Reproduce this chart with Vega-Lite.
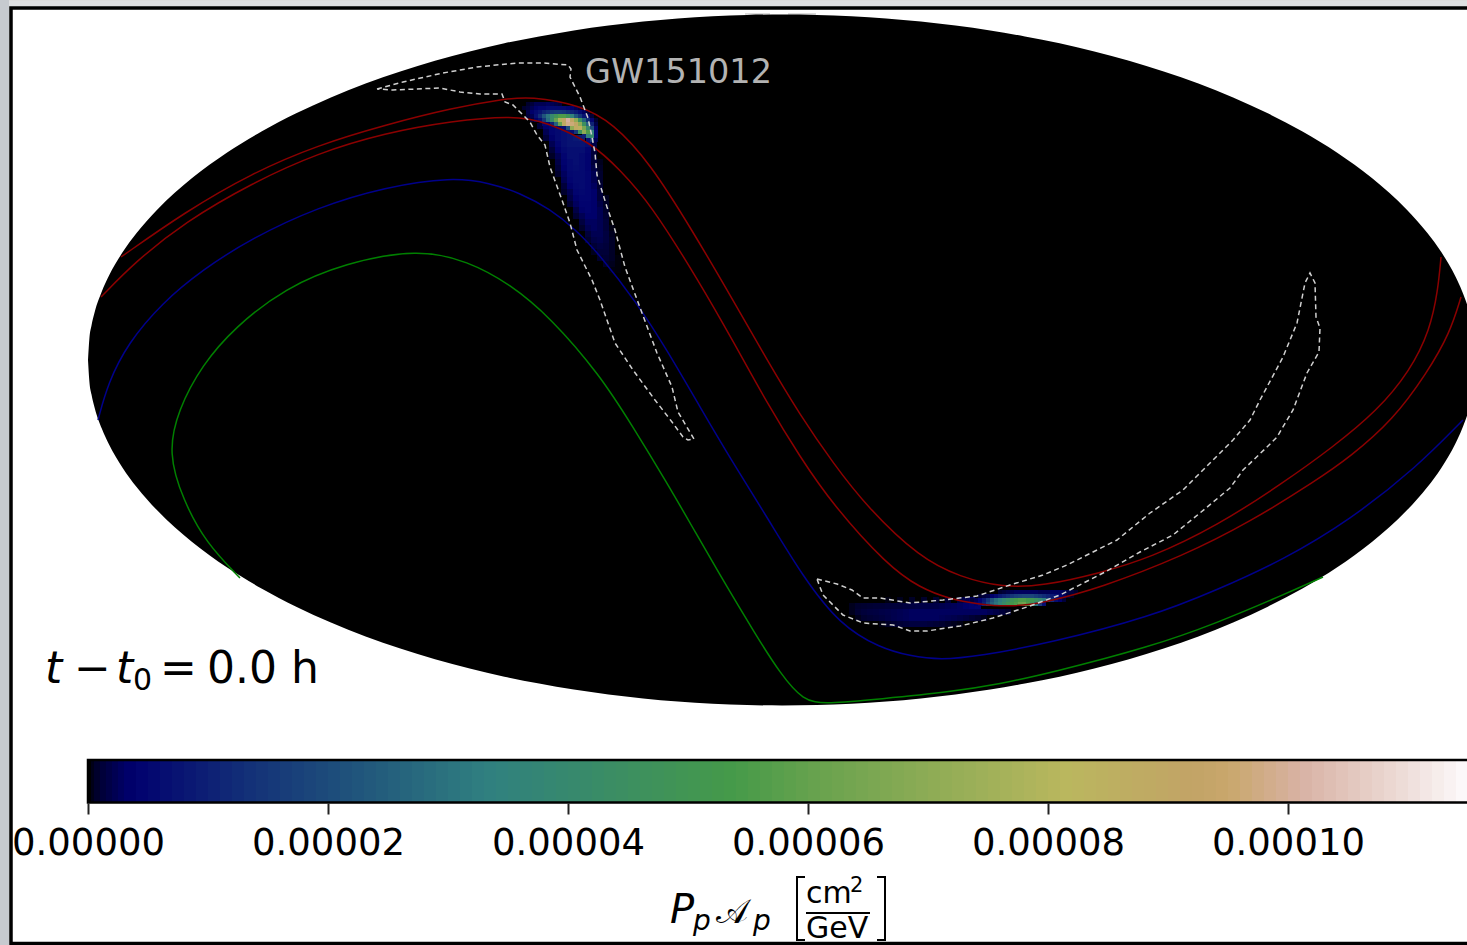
{
"$schema":"https://vega.github.io/schema/vega-lite/v6.json",
"width":1467,"height":945,"autosize":"none","padding":0,"background":"#dfe0e2",
"datasets":{
"sky":[{"x":-694,"t":0,"b":0},{"x":-692.6,"t":21.8,"b":-21.8},{"x":-690.5,"t":34.5,"b":-34.5},{"x":-687.1,"t":48.7,"b":-48.7},{"x":-680.1,"t":68.8,"b":-68.8},{"x":-673.2,"t":84,"b":-84},{"x":-659.3,"t":107.9,"b":-107.9},{"x":-645.4,"t":127,"b":-127},{"x":-624.6,"t":150.6,"b":-150.6},{"x":-589.9,"t":182,"b":-182},{"x":-555.2,"t":207.3,"b":-207.3},{"x":-520.5,"t":228.5,"b":-228.5},{"x":-485.8,"t":246.7,"b":-246.7},{"x":-451.1,"t":262.6,"b":-262.6},{"x":-416.4,"t":276.4,"b":-276.4},{"x":-381.7,"t":288.5,"b":-288.5},{"x":-347,"t":299.2,"b":-299.2},{"x":-312.3,"t":308.6,"b":-308.6},{"x":-277.6,"t":316.7,"b":-316.7},{"x":-242.9,"t":323.6,"b":-323.6},{"x":-208.2,"t":329.6,"b":-329.6},{"x":-173.5,"t":334.5,"b":-334.5},{"x":-138.8,"t":338.5,"b":-338.5},{"x":-104.1,"t":341.6,"b":-341.6},{"x":-69.4,"t":343.8,"b":-343.8},{"x":-34.7,"t":345.1,"b":-345.1},{"x":0,"t":345.5,"b":-345.5},{"x":34.7,"t":345.1,"b":-345.1},{"x":69.4,"t":343.8,"b":-343.8},{"x":104.1,"t":341.6,"b":-341.6},{"x":138.8,"t":338.5,"b":-338.5},{"x":173.5,"t":334.5,"b":-334.5},{"x":208.2,"t":329.6,"b":-329.6},{"x":242.9,"t":323.6,"b":-323.6},{"x":277.6,"t":316.7,"b":-316.7},{"x":312.3,"t":308.6,"b":-308.6},{"x":347,"t":299.2,"b":-299.2},{"x":381.7,"t":288.5,"b":-288.5},{"x":416.4,"t":276.4,"b":-276.4},{"x":451.1,"t":262.6,"b":-262.6},{"x":485.8,"t":246.7,"b":-246.7},{"x":520.5,"t":228.5,"b":-228.5},{"x":555.2,"t":207.3,"b":-207.3},{"x":589.9,"t":182,"b":-182},{"x":624.6,"t":150.6,"b":-150.6},{"x":645.4,"t":127,"b":-127},{"x":659.3,"t":107.9,"b":-107.9},{"x":673.2,"t":84,"b":-84},{"x":680.1,"t":68.8,"b":-68.8},{"x":687.1,"t":48.7,"b":-48.7},{"x":690.5,"t":34.5,"b":-34.5},{"x":692.6,"t":21.8,"b":-21.8},{"x":694,"t":0,"b":0}],
"coarse":[
{"x":-242,"y":234,"v":1e-6},{"x":-236,"y":234,"v":3e-6},{"x":-230,"y":234,"v":4e-6},{"x":-224,"y":234,"v":5e-6},{"x":-218,"y":234,"v":6e-6},{"x":-212,"y":234,"v":7e-6},{"x":-206,"y":234,"v":8e-6},
{"x":-236,"y":228,"v":2e-6},{"x":-230,"y":228,"v":4e-6},{"x":-224,"y":228,"v":5e-6},{"x":-218,"y":228,"v":6e-6},{"x":-212,"y":228,"v":7e-6},
{"x":-236,"y":222,"v":1e-6},{"x":-230,"y":222,"v":3e-6},{"x":-224,"y":222,"v":5e-6},{"x":-218,"y":222,"v":6e-6},{"x":-212,"y":222,"v":7e-6},{"x":-206,"y":222,"v":8e-6},{"x":-200,"y":222,"v":9e-6},
{"x":-230,"y":216,"v":2e-6},{"x":-224,"y":216,"v":4e-6},{"x":-218,"y":216,"v":6e-6},{"x":-212,"y":216,"v":7e-6},{"x":-206,"y":216,"v":7e-6},{"x":-200,"y":216,"v":7e-6},{"x":-194,"y":216,"v":6e-6},{"x":-188,"y":216,"v":1.5e-6},
{"x":-230,"y":210,"v":1e-6},{"x":-224,"y":210,"v":3e-6},{"x":-218,"y":210,"v":5e-6},{"x":-212,"y":210,"v":6e-6},{"x":-206,"y":210,"v":6e-6},{"x":-200,"y":210,"v":6e-6},{"x":-194,"y":210,"v":4e-6},{"x":-188,"y":210,"v":1e-6},
{"x":-230,"y":204,"v":0.4e-6},{"x":-224,"y":204,"v":2e-6},{"x":-218,"y":204,"v":4e-6},{"x":-212,"y":204,"v":6e-6},{"x":-206,"y":204,"v":6e-6},{"x":-200,"y":204,"v":5e-6},{"x":-194,"y":204,"v":3.5e-6},{"x":-188,"y":204,"v":1e-6},
{"x":-224,"y":198,"v":1.5e-6},{"x":-218,"y":198,"v":3.5e-6},{"x":-212,"y":198,"v":5e-6},{"x":-206,"y":198,"v":6e-6},{"x":-200,"y":198,"v":5e-6},{"x":-194,"y":198,"v":3.5e-6},{"x":-188,"y":198,"v":1e-6},{"x":-182,"y":198,"v":0.3e-6},
{"x":-224,"y":192,"v":1e-6},{"x":-218,"y":192,"v":3e-6},{"x":-212,"y":192,"v":5e-6},{"x":-206,"y":192,"v":5.5e-6},{"x":-200,"y":192,"v":5e-6},{"x":-194,"y":192,"v":3.5e-6},{"x":-188,"y":192,"v":1.5e-6},{"x":-182,"y":192,"v":0.4e-6},
{"x":-224,"y":186,"v":0.5e-6},{"x":-218,"y":186,"v":2.5e-6},{"x":-212,"y":186,"v":4.5e-6},{"x":-206,"y":186,"v":5e-6},{"x":-200,"y":186,"v":5e-6},{"x":-194,"y":186,"v":4e-6},{"x":-188,"y":186,"v":2e-6},{"x":-182,"y":186,"v":0.5e-6},
{"x":-218,"y":180,"v":2e-6},{"x":-212,"y":180,"v":4e-6},{"x":-206,"y":180,"v":5e-6},{"x":-200,"y":180,"v":5e-6},{"x":-194,"y":180,"v":4e-6},{"x":-188,"y":180,"v":2e-6},{"x":-182,"y":180,"v":0.5e-6},
{"x":-218,"y":174,"v":1e-6},{"x":-212,"y":174,"v":3e-6},{"x":-206,"y":174,"v":4.5e-6},{"x":-200,"y":174,"v":5e-6},{"x":-194,"y":174,"v":4e-6},{"x":-188,"y":174,"v":2.5e-6},{"x":-182,"y":174,"v":0.7e-6},
{"x":-218,"y":168,"v":0.5e-6},{"x":-212,"y":168,"v":2e-6},{"x":-206,"y":168,"v":4e-6},{"x":-200,"y":168,"v":4.5e-6},{"x":-194,"y":168,"v":4e-6},{"x":-188,"y":168,"v":3e-6},{"x":-182,"y":168,"v":1e-6},
{"x":-212,"y":162,"v":1.5e-6},{"x":-206,"y":162,"v":3e-6},{"x":-200,"y":162,"v":4e-6},{"x":-194,"y":162,"v":4e-6},{"x":-188,"y":162,"v":3e-6},{"x":-182,"y":162,"v":1e-6},{"x":-176,"y":162,"v":0.3e-6},
{"x":-212,"y":156,"v":0.7e-6},{"x":-206,"y":156,"v":2.5e-6},{"x":-200,"y":156,"v":3.5e-6},{"x":-194,"y":156,"v":3.5e-6},{"x":-188,"y":156,"v":3e-6},{"x":-182,"y":156,"v":1.5e-6},{"x":-176,"y":156,"v":0.4e-6},
{"x":-206,"y":150,"v":1.5e-6},{"x":-200,"y":150,"v":3e-6},{"x":-194,"y":150,"v":3.5e-6},{"x":-188,"y":150,"v":3e-6},{"x":-182,"y":150,"v":2e-6},{"x":-176,"y":150,"v":0.5e-6},
{"x":-206,"y":144,"v":0.7e-6},{"x":-200,"y":144,"v":2e-6},{"x":-194,"y":144,"v":3e-6},{"x":-188,"y":144,"v":3e-6},{"x":-182,"y":144,"v":2e-6},{"x":-176,"y":144,"v":0.7e-6},
{"x":-200,"y":138,"v":1.2e-6},{"x":-194,"y":138,"v":2.5e-6},{"x":-188,"y":138,"v":2.5e-6},{"x":-182,"y":138,"v":2e-6},{"x":-176,"y":138,"v":1e-6},
{"x":-200,"y":132,"v":0.5e-6},{"x":-194,"y":132,"v":2e-6},{"x":-188,"y":132,"v":2.5e-6},{"x":-182,"y":132,"v":2e-6},{"x":-176,"y":132,"v":1e-6},{"x":-170,"y":132,"v":0.2e-6},
{"x":-194,"y":126,"v":1e-6},{"x":-188,"y":126,"v":2e-6},{"x":-182,"y":126,"v":2e-6},{"x":-176,"y":126,"v":1.2e-6},{"x":-170,"y":126,"v":0.3e-6},
{"x":-194,"y":120,"v":0.5e-6},{"x":-188,"y":120,"v":1.5e-6},{"x":-182,"y":120,"v":1.8e-6},{"x":-176,"y":120,"v":1.2e-6},{"x":-170,"y":120,"v":0.4e-6},
{"x":-188,"y":114,"v":0.8e-6},{"x":-182,"y":114,"v":1.3e-6},{"x":-176,"y":114,"v":1e-6},{"x":-170,"y":114,"v":0.4e-6},
{"x":-188,"y":108,"v":0.3e-6},{"x":-182,"y":108,"v":0.9e-6},{"x":-176,"y":108,"v":0.9e-6},{"x":-170,"y":108,"v":0.4e-6},
{"x":-182,"y":102,"v":0.5e-6},{"x":-176,"y":102,"v":0.7e-6},{"x":-170,"y":102,"v":0.4e-6},{"x":-164,"y":102,"v":0.1e-6},
{"x":-176,"y":96,"v":0.4e-6},{"x":-170,"y":96,"v":0.3e-6},{"x":-164,"y":96,"v":0.1e-6},
{"x":-170,"y":90,"v":0.15e-6},{"x":-164,"y":90,"v":0.1e-6},
{"x":106,"y":-240,"v":0.2e-6},{"x":118,"y":-240,"v":0.3e-6},{"x":130,"y":-240,"v":0.4e-6},{"x":142,"y":-240,"v":0.5e-6},{"x":154,"y":-240,"v":0.6e-6},{"x":166,"y":-240,"v":0.8e-6},{"x":178,"y":-240,"v":1.2e-6},{"x":184,"y":-240,"v":1.8e-6},{"x":190,"y":-240,"v":2.5e-6},
{"x":70,"y":-246,"v":0.3e-6},{"x":76,"y":-246,"v":0.5e-6},{"x":82,"y":-246,"v":0.6e-6},{"x":88,"y":-246,"v":0.7e-6},{"x":94,"y":-246,"v":0.8e-6},{"x":100,"y":-246,"v":0.8e-6},{"x":106,"y":-246,"v":0.9e-6},{"x":112,"y":-246,"v":1e-6},{"x":118,"y":-246,"v":1e-6},{"x":124,"y":-246,"v":1.2e-6},{"x":130,"y":-246,"v":1.3e-6},{"x":136,"y":-246,"v":1.5e-6},{"x":142,"y":-246,"v":1.5e-6},{"x":148,"y":-246,"v":1.5e-6},{"x":154,"y":-246,"v":1.5e-6},{"x":160,"y":-246,"v":1.8e-6},{"x":166,"y":-246,"v":2e-6},{"x":172,"y":-246,"v":2.2e-6},{"x":178,"y":-246,"v":2.5e-6},{"x":184,"y":-246,"v":3e-6},{"x":190,"y":-246,"v":3.5e-6},{"x":196,"y":-246,"v":4e-6},
{"x":70,"y":-252,"v":0.3e-6},{"x":76,"y":-252,"v":0.7e-6},{"x":82,"y":-252,"v":1e-6},{"x":88,"y":-252,"v":1.2e-6},{"x":94,"y":-252,"v":1.3e-6},{"x":100,"y":-252,"v":1.5e-6},{"x":106,"y":-252,"v":1.6e-6},{"x":112,"y":-252,"v":1.8e-6},{"x":118,"y":-252,"v":2e-6},{"x":124,"y":-252,"v":2.2e-6},{"x":130,"y":-252,"v":2.5e-6},{"x":136,"y":-252,"v":2.5e-6},{"x":142,"y":-252,"v":2.5e-6},{"x":148,"y":-252,"v":2.5e-6},{"x":154,"y":-252,"v":2.5e-6},{"x":160,"y":-252,"v":2.5e-6},{"x":166,"y":-252,"v":2.5e-6},{"x":172,"y":-252,"v":2.5e-6},{"x":178,"y":-252,"v":2.5e-6},{"x":184,"y":-252,"v":2.5e-6},{"x":190,"y":-252,"v":2.5e-6},{"x":196,"y":-252,"v":2.5e-6},{"x":202,"y":-252,"v":2.5e-6},{"x":208,"y":-252,"v":2e-6},{"x":214,"y":-252,"v":1.5e-6},{"x":220,"y":-252,"v":1e-6},{"x":226,"y":-252,"v":0.5e-6},
{"x":76,"y":-258,"v":0.3e-6},{"x":82,"y":-258,"v":0.6e-6},{"x":88,"y":-258,"v":0.8e-6},{"x":94,"y":-258,"v":1e-6},{"x":100,"y":-258,"v":1.2e-6},{"x":106,"y":-258,"v":1.5e-6},{"x":112,"y":-258,"v":1.8e-6},{"x":118,"y":-258,"v":2e-6},{"x":124,"y":-258,"v":2.2e-6},{"x":130,"y":-258,"v":2.5e-6},{"x":136,"y":-258,"v":2.5e-6},{"x":142,"y":-258,"v":2.5e-6},{"x":148,"y":-258,"v":2.5e-6},{"x":154,"y":-258,"v":2.5e-6},{"x":160,"y":-258,"v":2.2e-6},{"x":166,"y":-258,"v":2e-6},{"x":172,"y":-258,"v":1.8e-6},{"x":178,"y":-258,"v":1.5e-6},{"x":184,"y":-258,"v":1.2e-6},{"x":190,"y":-258,"v":0.8e-6},{"x":196,"y":-258,"v":0.5e-6},{"x":202,"y":-258,"v":0.3e-6},
{"x":100,"y":-264,"v":0.2e-6},{"x":106,"y":-264,"v":0.4e-6},{"x":112,"y":-264,"v":0.6e-6},{"x":118,"y":-264,"v":0.8e-6},{"x":124,"y":-264,"v":1e-6},{"x":130,"y":-264,"v":1.2e-6},{"x":136,"y":-264,"v":1.2e-6},{"x":142,"y":-264,"v":1.2e-6},{"x":148,"y":-264,"v":1e-6},{"x":154,"y":-264,"v":0.8e-6},{"x":160,"y":-264,"v":0.6e-6},{"x":166,"y":-264,"v":0.4e-6},{"x":172,"y":-264,"v":0.3e-6},{"x":178,"y":-264,"v":0.2e-6}
],
"fine":[
{"x":-254,"y":256,"v":0.5e-6},{"x":-250,"y":256,"v":1e-6},{"x":-246,"y":256,"v":2e-6},{"x":-242,"y":256,"v":2e-6},{"x":-238,"y":256,"v":2e-6},{"x":-234,"y":256,"v":2.5e-6},{"x":-230,"y":256,"v":2e-6},{"x":-226,"y":256,"v":1.5e-6},{"x":-222,"y":256,"v":1e-6},
{"x":-258,"y":252,"v":0.5e-6},{"x":-254,"y":252,"v":1e-6},{"x":-250,"y":252,"v":2e-6},{"x":-246,"y":252,"v":3e-6},{"x":-242,"y":252,"v":4e-6},{"x":-238,"y":252,"v":4e-6},{"x":-234,"y":252,"v":5e-6},{"x":-230,"y":252,"v":5e-6},{"x":-226,"y":252,"v":5e-6},{"x":-222,"y":252,"v":5e-6},{"x":-218,"y":252,"v":5e-6},{"x":-214,"y":252,"v":4e-6},{"x":-210,"y":252,"v":3e-6},{"x":-206,"y":252,"v":2e-6},{"x":-202,"y":252,"v":1e-6},
{"x":-254,"y":248,"v":1.5e-6},{"x":-250,"y":248,"v":3e-6},{"x":-246,"y":248,"v":5e-6},{"x":-242,"y":248,"v":7e-6},{"x":-238,"y":248,"v":10e-6},{"x":-234,"y":248,"v":12e-6},{"x":-230,"y":248,"v":14e-6},{"x":-226,"y":248,"v":15e-6},{"x":-222,"y":248,"v":15e-6},{"x":-218,"y":248,"v":14e-6},{"x":-214,"y":248,"v":12e-6},{"x":-210,"y":248,"v":10e-6},{"x":-206,"y":248,"v":8e-6},{"x":-202,"y":248,"v":5e-6},{"x":-198,"y":248,"v":2.5e-6},{"x":-194,"y":248,"v":0.8e-6},
{"x":-254,"y":244,"v":1e-6},{"x":-250,"y":244,"v":2e-6},{"x":-246,"y":244,"v":6e-6},{"x":-242,"y":244,"v":12e-6},{"x":-238,"y":244,"v":22e-6},{"x":-234,"y":244,"v":30e-6},{"x":-230,"y":244,"v":40e-6},{"x":-226,"y":244,"v":48e-6},{"x":-222,"y":244,"v":55e-6},{"x":-218,"y":244,"v":55e-6},{"x":-214,"y":244,"v":48e-6},{"x":-210,"y":244,"v":35e-6},{"x":-206,"y":244,"v":22e-6},{"x":-202,"y":244,"v":14e-6},{"x":-198,"y":244,"v":7e-6},{"x":-194,"y":244,"v":3e-6},{"x":-190,"y":244,"v":0.8e-6},
{"x":-250,"y":240,"v":0.8e-6},{"x":-246,"y":240,"v":3e-6},{"x":-242,"y":240,"v":6e-6},{"x":-238,"y":240,"v":14e-6},{"x":-234,"y":240,"v":28e-6},{"x":-230,"y":240,"v":42e-6},{"x":-226,"y":240,"v":60e-6},{"x":-222,"y":240,"v":78e-6},{"x":-218,"y":240,"v":90e-6},{"x":-214,"y":240,"v":100e-6},{"x":-210,"y":240,"v":90e-6},{"x":-206,"y":240,"v":70e-6},{"x":-202,"y":240,"v":45e-6},{"x":-198,"y":240,"v":25e-6},{"x":-194,"y":240,"v":12e-6},{"x":-190,"y":240,"v":4e-6},{"x":-186,"y":240,"v":0.6e-6},
{"x":-238,"y":236,"v":4e-6},{"x":-234,"y":236,"v":4e-6},{"x":-230,"y":236,"v":10e-6},{"x":-226,"y":236,"v":25e-6},{"x":-222,"y":236,"v":60e-6},{"x":-218,"y":236,"v":88e-6},{"x":-214,"y":236,"v":98e-6},{"x":-210,"y":236,"v":96e-6},{"x":-206,"y":236,"v":90e-6},{"x":-202,"y":236,"v":70e-6},{"x":-198,"y":236,"v":45e-6},{"x":-194,"y":236,"v":25e-6},{"x":-190,"y":236,"v":10e-6},{"x":-186,"y":236,"v":1.5e-6},
{"x":-218,"y":232,"v":6e-6},{"x":-214,"y":232,"v":20e-6},{"x":-210,"y":232,"v":70e-6},{"x":-206,"y":232,"v":88e-6},{"x":-202,"y":232,"v":85e-6},{"x":-198,"y":232,"v":65e-6},{"x":-194,"y":232,"v":40e-6},{"x":-190,"y":232,"v":20e-6},{"x":-186,"y":232,"v":3e-6},
{"x":-210,"y":228,"v":6e-6},{"x":-206,"y":228,"v":15e-6},{"x":-202,"y":228,"v":45e-6},{"x":-198,"y":228,"v":70e-6},{"x":-194,"y":228,"v":55e-6},{"x":-190,"y":228,"v":35e-6},{"x":-186,"y":228,"v":4e-6},
{"x":-198,"y":224,"v":10e-6},{"x":-194,"y":224,"v":35e-6},{"x":-190,"y":224,"v":40e-6},{"x":-186,"y":224,"v":4e-6},
{"x":-194,"y":220,"v":6e-6},{"x":-190,"y":220,"v":14e-6},{"x":-186,"y":220,"v":2e-6},
{"x":218,"y":-232,"v":0.6e-6},{"x":222,"y":-232,"v":1e-6},{"x":226,"y":-232,"v":1.5e-6},{"x":230,"y":-232,"v":2e-6},{"x":234,"y":-232,"v":2.5e-6},{"x":238,"y":-232,"v":2.5e-6},{"x":242,"y":-232,"v":2.5e-6},{"x":246,"y":-232,"v":2.5e-6},{"x":250,"y":-232,"v":2.5e-6},{"x":254,"y":-232,"v":2.5e-6},{"x":258,"y":-232,"v":2e-6},{"x":262,"y":-232,"v":2e-6},{"x":266,"y":-232,"v":2e-6},{"x":270,"y":-232,"v":2.5e-6},{"x":274,"y":-232,"v":2.5e-6},{"x":278,"y":-232,"v":2.5e-6},{"x":282,"y":-232,"v":2e-6},{"x":286,"y":-232,"v":1.5e-6},{"x":290,"y":-232,"v":1e-6},{"x":294,"y":-232,"v":0.5e-6},
{"x":198,"y":-236,"v":0.5e-6},{"x":202,"y":-236,"v":1e-6},{"x":206,"y":-236,"v":1.5e-6},{"x":210,"y":-236,"v":3e-6},{"x":214,"y":-236,"v":5e-6},{"x":218,"y":-236,"v":8e-6},{"x":222,"y":-236,"v":10e-6},{"x":226,"y":-236,"v":12e-6},{"x":230,"y":-236,"v":14e-6},{"x":234,"y":-236,"v":16e-6},{"x":238,"y":-236,"v":17e-6},{"x":242,"y":-236,"v":18e-6},{"x":246,"y":-236,"v":18e-6},{"x":250,"y":-236,"v":18e-6},{"x":254,"y":-236,"v":16e-6},{"x":258,"y":-236,"v":14e-6},{"x":262,"y":-236,"v":12e-6},{"x":266,"y":-236,"v":10e-6},{"x":270,"y":-236,"v":8e-6},{"x":274,"y":-236,"v":6e-6},{"x":278,"y":-236,"v":4e-6},{"x":282,"y":-236,"v":2.5e-6},{"x":286,"y":-236,"v":1e-6},{"x":290,"y":-236,"v":0.4e-6},
{"x":190,"y":-240,"v":1e-6},{"x":194,"y":-240,"v":2e-6},{"x":198,"y":-240,"v":4e-6},{"x":202,"y":-240,"v":8e-6},{"x":206,"y":-240,"v":14e-6},{"x":210,"y":-240,"v":22e-6},{"x":214,"y":-240,"v":28e-6},{"x":218,"y":-240,"v":32e-6},{"x":222,"y":-240,"v":38e-6},{"x":226,"y":-240,"v":42e-6},{"x":230,"y":-240,"v":48e-6},{"x":234,"y":-240,"v":52e-6},{"x":238,"y":-240,"v":55e-6},{"x":242,"y":-240,"v":55e-6},{"x":246,"y":-240,"v":52e-6},{"x":250,"y":-240,"v":50e-6},{"x":254,"y":-240,"v":45e-6},{"x":258,"y":-240,"v":40e-6},{"x":262,"y":-240,"v":32e-6},{"x":266,"y":-240,"v":22e-6},{"x":270,"y":-240,"v":12e-6},{"x":274,"y":-240,"v":6e-6},{"x":278,"y":-240,"v":3e-6},{"x":282,"y":-240,"v":1e-6},
{"x":194,"y":-244,"v":3e-6},{"x":198,"y":-244,"v":5e-6},{"x":202,"y":-244,"v":10e-6},{"x":206,"y":-244,"v":18e-6},{"x":210,"y":-244,"v":25e-6},{"x":214,"y":-244,"v":30e-6},{"x":218,"y":-244,"v":36e-6},{"x":222,"y":-244,"v":42e-6},{"x":226,"y":-244,"v":48e-6},{"x":230,"y":-244,"v":52e-6},{"x":234,"y":-244,"v":55e-6},{"x":238,"y":-244,"v":60e-6},{"x":242,"y":-244,"v":62e-6},{"x":246,"y":-244,"v":55e-6},{"x":250,"y":-244,"v":45e-6},{"x":254,"y":-244,"v":30e-6},{"x":258,"y":-244,"v":15e-6},{"x":262,"y":-244,"v":6e-6}
],
"red":[
{"s":"a","x":-661,"y":103},{"s":"a","x":-597,"y":148},{"s":"a","x":-530,"y":187},{"s":"a","x":-464,"y":215},{"s":"a","x":-397,"y":235},{"s":"a","x":-330,"y":252},{"s":"a","x":-277,"y":261},{"s":"a","x":-252,"y":263.5},{"s":"a","x":-202,"y":255},{"s":"a","x":-169,"y":237},{"s":"a","x":-132,"y":197},{"s":"a","x":-90,"y":130},{"s":"a","x":-49,"y":60},{"s":"a","x":-15,"y":0},{"s":"a","x":18,"y":-55},{"s":"a","x":51,"y":-103},{"s":"a","x":85,"y":-147},{"s":"a","x":138,"y":-198},{"s":"a","x":178,"y":-217},{"s":"a","x":221,"y":-227.5},{"s":"a","x":261,"y":-226},{"s":"a","x":318,"y":-213},{"s":"a","x":368,"y":-198},{"s":"a","x":435,"y":-166},{"s":"a","x":501,"y":-123},{"s":"a","x":551,"y":-87},{"s":"a","x":595,"y":-51},{"s":"a","x":628,"y":-11},{"s":"a","x":648,"y":30},{"s":"a","x":656,"y":70},{"s":"a","x":659,"y":103},
{"s":"b","x":-681,"y":63},{"s":"b","x":-647,"y":98},{"s":"b","x":-597,"y":138},{"s":"b","x":-530,"y":177},{"s":"b","x":-464,"y":207},{"s":"b","x":-397,"y":227},{"s":"b","x":-330,"y":239},{"s":"b","x":-269,"y":244.5},{"s":"b","x":-235,"y":238},{"s":"b","x":-190,"y":217},{"s":"b","x":-162,"y":190},{"s":"b","x":-132,"y":157},{"s":"b","x":-82,"y":77},{"s":"b","x":-49,"y":19},{"s":"b","x":-15,"y":-43},{"s":"b","x":18,"y":-97},{"s":"b","x":51,"y":-145},{"s":"b","x":105,"y":-205},{"s":"b","x":138,"y":-228},{"s":"b","x":168,"y":-239},{"s":"b","x":195,"y":-244},{"s":"b","x":228,"y":-247},{"s":"b","x":261,"y":-243},{"s":"b","x":318,"y":-228},{"s":"b","x":401,"y":-196},{"s":"b","x":468,"y":-162},{"s":"b","x":535,"y":-120},{"s":"b","x":568,"y":-97},{"s":"b","x":611,"y":-60},{"s":"b","x":645,"y":-13},{"s":"b","x":668,"y":27},{"s":"b","x":679,"y":63}],
"blue":[{"x":-684,"y":-60},{"x":-674,"y":-23},{"x":-654,"y":17},{"x":-620,"y":57},{"x":-580,"y":90},{"x":-530,"y":122},{"x":-464,"y":153},{"x":-397,"y":173},{"x":-330,"y":183},{"x":-292,"y":177},{"x":-262,"y":167},{"x":-232,"y":151},{"x":-207,"y":131},{"x":-182,"y":105},{"x":-145,"y":57},{"x":-115,"y":10},{"x":-82,"y":-47},{"x":-49,"y":-103},{"x":-15,"y":-157},{"x":21,"y":-217},{"x":58,"y":-265},{"x":98,"y":-288},{"x":128,"y":-296},{"x":158,"y":-300},{"x":198,"y":-296},{"x":268,"y":-283},{"x":368,"y":-257},{"x":435,"y":-230},{"x":501,"y":-200},{"x":568,"y":-160},{"x":635,"y":-107},{"x":681,"y":-60}],
"green":[{"x":-542,"y":-218},{"x":-576,"y":-183},{"x":-599,"y":-140},{"x":-614,"y":-93},{"x":-604,"y":-50},{"x":-580,"y":-5},{"x":-547,"y":33},{"x":-497,"y":72},{"x":-437,"y":97},{"x":-364,"y":111},{"x":-314,"y":99},{"x":-272,"y":76},{"x":-232,"y":43},{"x":-182,"y":-15},{"x":-149,"y":-67},{"x":-115,"y":-123},{"x":-89,"y":-168},{"x":-65,"y":-210},{"x":-25,"y":-277},{"x":-2,"y":-313},{"x":21,"y":-341},{"x":44,"y":-344},{"x":98,"y":-339},{"x":168,"y":-332},{"x":218,"y":-324},{"x":268,"y":-313},{"x":368,"y":-287},{"x":435,"y":-263},{"x":501,"y":-235},{"x":541,"y":-217}],
"contour":[
{"s":"n","x":-405,"y":271},{"s":"n","x":-379,"y":278},{"s":"n","x":-339,"y":287},{"s":"n","x":-305,"y":293},{"s":"n","x":-265,"y":297},{"s":"n","x":-239,"y":297},{"s":"n","x":-214,"y":295},{"s":"n","x":-211,"y":291},{"s":"n","x":-212,"y":283},{"s":"n","x":-202,"y":263},{"s":"n","x":-194,"y":242},{"s":"n","x":-190,"y":223},{"s":"n","x":-187,"y":207},{"s":"n","x":-185,"y":185},{"s":"n","x":-175,"y":153},{"s":"n","x":-167,"y":130},{"s":"n","x":-157,"y":93},{"s":"n","x":-140,"y":47},{"s":"n","x":-125,"y":7},{"s":"n","x":-110,"y":-27},{"s":"n","x":-104,"y":-52},{"s":"n","x":-88,"y":-79},{"s":"n","x":-94,"y":-80},{"s":"n","x":-99,"y":-77},{"s":"n","x":-110,"y":-62},{"s":"n","x":-127,"y":-40},{"s":"n","x":-149,"y":-10},{"s":"n","x":-167,"y":17},{"s":"n","x":-182,"y":60},{"s":"n","x":-190,"y":80},{"s":"n","x":-205,"y":110},{"s":"n","x":-212,"y":137},{"s":"n","x":-220,"y":160},{"s":"n","x":-232,"y":193},{"s":"n","x":-237,"y":215},{"s":"n","x":-245,"y":225},{"s":"n","x":-252,"y":238},{"s":"n","x":-269,"y":255},{"s":"n","x":-277,"y":258},{"s":"n","x":-280,"y":266},{"s":"n","x":-302,"y":266},{"s":"n","x":-322,"y":268},{"s":"n","x":-342,"y":272},{"s":"n","x":-389,"y":270},{"s":"n","x":-405,"y":271},
{"s":"m","x":35,"y":-219},{"s":"m","x":55,"y":-224},{"s":"m","x":70,"y":-230},{"s":"m","x":81,"y":-238},{"s":"m","x":98,"y":-238},{"s":"m","x":128,"y":-243},{"s":"m","x":161,"y":-240},{"s":"m","x":195,"y":-236},{"s":"m","x":228,"y":-225},{"s":"m","x":261,"y":-215},{"s":"m","x":285,"y":-205},{"s":"m","x":301,"y":-197},{"s":"m","x":335,"y":-180},{"s":"m","x":368,"y":-153},{"s":"m","x":401,"y":-130},{"s":"m","x":428,"y":-103},{"s":"m","x":451,"y":-80},{"s":"m","x":468,"y":-60},{"s":"m","x":478,"y":-40},{"s":"m","x":501,"y":3},{"s":"m","x":515,"y":37},{"s":"m","x":523,"y":77},{"s":"m","x":528,"y":87},{"s":"m","x":533,"y":77},{"s":"m","x":534,"y":43},{"s":"m","x":538,"y":32},{"s":"m","x":537,"y":8},{"s":"m","x":525,"y":-13},{"s":"m","x":511,"y":-50},{"s":"m","x":495,"y":-77},{"s":"m","x":485,"y":-87},{"s":"m","x":461,"y":-110},{"s":"m","x":448,"y":-128},{"s":"m","x":418,"y":-153},{"s":"m","x":391,"y":-175},{"s":"m","x":358,"y":-192},{"s":"m","x":323,"y":-212},{"s":"m","x":278,"y":-235},{"s":"m","x":245,"y":-247},{"s":"m","x":211,"y":-258},{"s":"m","x":178,"y":-266},{"s":"m","x":145,"y":-271},{"s":"m","x":128,"y":-271},{"s":"m","x":111,"y":-265},{"s":"m","x":81,"y":-263},{"s":"m","x":61,"y":-255},{"s":"m","x":41,"y":-235},{"s":"m","x":35,"y":-219}],
"brackets":[
{"s":"l","x":23,"y":-517},{"s":"l","x":15,"y":-517},{"s":"l","x":15,"y":-580},{"s":"l","x":23,"y":-580},
{"s":"r","x":95,"y":-517},{"s":"r","x":103,"y":-517},{"s":"r","x":103,"y":-580},{"s":"r","x":95,"y":-580},
{"s":"f","x":24,"y":-553},{"s":"f","x":88,"y":-553}],
"bar":[{"v":0,"w":0.25e-6},{"v":0.25e-6,"w":0.5e-6},{"v":0.5e-6,"w":1e-6},{"v":1e-6,"w":1.5e-6},{"v":1.5e-6,"w":2e-6},{"v":2e-6,"w":2.5e-6},{"v":2.5e-6,"w":3e-6},{"v":3e-6,"w":4e-6},{"v":4e-6,"w":5e-6},{"v":5e-6,"w":6e-6},{"v":6e-6,"w":7e-6},{"v":7e-6,"w":8e-6},{"v":8e-6,"w":9e-6},{"v":9e-6,"w":10e-6},{"v":10e-6,"w":11e-6},{"v":11e-6,"w":12e-6},{"v":12e-6,"w":13e-6},{"v":13e-6,"w":14e-6},{"v":14e-6,"w":15e-6},{"v":15e-6,"w":16e-6},{"v":16e-6,"w":17e-6},{"v":17e-6,"w":18e-6},{"v":18e-6,"w":19e-6},{"v":19e-6,"w":20e-6},{"v":20e-6,"w":21e-6},{"v":21e-6,"w":22e-6},{"v":22e-6,"w":23e-6},{"v":23e-6,"w":24e-6},{"v":24e-6,"w":25e-6},{"v":25e-6,"w":26e-6},{"v":26e-6,"w":27e-6},{"v":27e-6,"w":28e-6},{"v":28e-6,"w":29e-6},{"v":29e-6,"w":30e-6},{"v":30e-6,"w":31e-6},{"v":31e-6,"w":32e-6},{"v":32e-6,"w":33e-6},{"v":33e-6,"w":34e-6},{"v":34e-6,"w":35e-6},{"v":35e-6,"w":36e-6},{"v":36e-6,"w":37e-6},{"v":37e-6,"w":38e-6},{"v":38e-6,"w":39e-6},{"v":39e-6,"w":40e-6},{"v":40e-6,"w":41e-6},{"v":41e-6,"w":42e-6},{"v":42e-6,"w":43e-6},{"v":43e-6,"w":44e-6},{"v":44e-6,"w":45e-6},{"v":45e-6,"w":46e-6},{"v":46e-6,"w":47e-6},{"v":47e-6,"w":48e-6},{"v":48e-6,"w":49e-6},{"v":49e-6,"w":50e-6},{"v":50e-6,"w":51e-6},{"v":51e-6,"w":52e-6},{"v":52e-6,"w":53e-6},{"v":53e-6,"w":54e-6},{"v":54e-6,"w":55e-6},{"v":55e-6,"w":56e-6},{"v":56e-6,"w":57e-6},{"v":57e-6,"w":58e-6},{"v":58e-6,"w":59e-6},{"v":59e-6,"w":60e-6},{"v":60e-6,"w":61e-6},{"v":61e-6,"w":62e-6},{"v":62e-6,"w":63e-6},{"v":63e-6,"w":64e-6},{"v":64e-6,"w":65e-6},{"v":65e-6,"w":66e-6},{"v":66e-6,"w":67e-6},{"v":67e-6,"w":68e-6},{"v":68e-6,"w":69e-6},{"v":69e-6,"w":70e-6},{"v":70e-6,"w":71e-6},{"v":71e-6,"w":72e-6},{"v":72e-6,"w":73e-6},{"v":73e-6,"w":74e-6},{"v":74e-6,"w":75e-6},{"v":75e-6,"w":76e-6},{"v":76e-6,"w":77e-6},{"v":77e-6,"w":78e-6},{"v":78e-6,"w":79e-6},{"v":79e-6,"w":80e-6},{"v":80e-6,"w":81e-6},{"v":81e-6,"w":82e-6},{"v":82e-6,"w":83e-6},{"v":83e-6,"w":84e-6},{"v":84e-6,"w":85e-6},{"v":85e-6,"w":86e-6},{"v":86e-6,"w":87e-6},{"v":87e-6,"w":88e-6},{"v":88e-6,"w":89e-6},{"v":89e-6,"w":90e-6},{"v":90e-6,"w":91e-6},{"v":91e-6,"w":92e-6},{"v":92e-6,"w":93e-6},{"v":93e-6,"w":94e-6},{"v":94e-6,"w":95e-6},{"v":95e-6,"w":96e-6},{"v":96e-6,"w":97e-6},{"v":97e-6,"w":98e-6},{"v":98e-6,"w":99e-6},{"v":99e-6,"w":100e-6},{"v":100e-6,"w":101e-6},{"v":101e-6,"w":102e-6},{"v":102e-6,"w":103e-6},{"v":103e-6,"w":104e-6},{"v":104e-6,"w":105e-6},{"v":105e-6,"w":106e-6},{"v":106e-6,"w":107e-6},{"v":107e-6,"w":108e-6},{"v":108e-6,"w":109e-6},{"v":109e-6,"w":110e-6},{"v":110e-6,"w":111e-6},{"v":111e-6,"w":112e-6},{"v":112e-6,"w":113e-6},{"v":113e-6,"w":114e-6},{"v":114e-6,"w":115e-6},{"v":115e-6,"w":116e-6}]
},
"resolve":{"scale":{"x":"independent","y":"independent"}},
"layer":[
{
"encoding":{
"x":{"field":"x","type":"quantitative","scale":{"domain":[-782,685],"nice":false,"zero":false},"axis":null},
"y":{"field":"y","type":"quantitative","scale":{"domain":[-585,360],"nice":false,"zero":false},"axis":null}
},
"layer":[
{"data":{"values":[{"x":-782,"x1":-773,"y":360,"y1":-585}]},"mark":{"type":"rect","fill":"#c6cacf"},"encoding":{"x2":{"field":"x1"},"y2":{"field":"y1"}}},
{"data":{"values":[{"x":-771,"x1":708,"y":352,"y1":-583.5}]},"mark":{"type":"rect","fill":"#ffffff","stroke":"#000000","strokeWidth":3.5},"encoding":{"x2":{"field":"x1"},"y2":{"field":"y1"}}},
{"data":{"values":[{"s":"a","x":-37,"y":346},{"s":"a","x":-12,"y":346},{"s":"b","x":6,"y":346},{"s":"b","x":34,"y":346}]},"mark":{"type":"line","color":"#bbbbbb","strokeWidth":1.5,"opacity":0.7},"encoding":{"detail":{"field":"s"}}},
{"data":{"name":"sky"},"mark":{"type":"area","color":"#000000","interpolate":"monotone"},"encoding":{"y":{"field":"t","type":"quantitative"},"y2":{"field":"b"}}},
{"data":{"name":"coarse"},"mark":{"type":"rect","width":6,"height":6},"encoding":{"color":{"field":"v","type":"quantitative","legend":null,"scale":{"interpolate":"rgb","domain":[0,0.45e-6,0.9e-6,3.19e-6,12.76e-6,32.76e-6,53.22e-6,60.5e-6,80.97e-6,91.43e-6,94.62e-6,100.54e-6,109.3e-6,114.3e-6],"range":["#000000","#00002b","#000038","#00006e","#133078","#308080","#459a49","#69a34e","#bab75e","#c2a366","#c9a76c","#d8b2a4","#eeddd9","#fdfafb"]}}}},
{"data":{"name":"fine"},"mark":{"type":"rect","width":4,"height":4},"encoding":{"color":{"field":"v","type":"quantitative","legend":null}}},
{"data":{"name":"red"},"transform":[{"window":[{"op":"row_number","as":"i"}]}],"mark":{"type":"line","color":"#8b0000","strokeWidth":1.5,"interpolate":"basis"},"encoding":{"detail":{"field":"s"},"order":{"field":"i","type":"quantitative"}}},
{"data":{"name":"blue"},"transform":[{"window":[{"op":"row_number","as":"i"}]}],"mark":{"type":"line","color":"#00008b","strokeWidth":1.5,"interpolate":"basis"},"encoding":{"order":{"field":"i","type":"quantitative"}}},
{"data":{"name":"green"},"transform":[{"window":[{"op":"row_number","as":"i"}]}],"mark":{"type":"line","color":"#008000","strokeWidth":1.5,"interpolate":"basis"},"encoding":{"order":{"field":"i","type":"quantitative"}}},
{"data":{"name":"contour"},"transform":[{"window":[{"op":"row_number","as":"i"}]}],"mark":{"type":"line","color":"#d0d0d0","strokeWidth":1.5,"strokeDash":[5,3.5]},"encoding":{"detail":{"field":"s"},"order":{"field":"i","type":"quantitative"}}},
{"data":{"name":"brackets"},"transform":[{"window":[{"op":"row_number","as":"i"}]}],"mark":{"type":"line","color":"#000000","strokeWidth":2},"encoding":{"detail":{"field":"s"},"order":{"field":"i","type":"quantitative"}}},
{"data":{"values":[{"x":-197,"y":277,"s":"GW151012"}]},"mark":{"type":"text","align":"left","baseline":"alphabetic","font":"DejaVu Sans","fontSize":33.5,"color":"#b3b3b3"},"encoding":{"text":{"field":"s"}}},
{"data":{"values":[{"x":-708,"y":-323,"s":"−"},{"x":-622,"y":-323,"s":"="},{"x":-575,"y":-323,"s":"0.0 h"}]},"mark":{"type":"text","align":"left","baseline":"alphabetic","font":"DejaVu Sans","fontSize":44,"color":"#000000"},"encoding":{"text":{"field":"s"}}},
{"data":{"values":[{"x":-737,"y":-323,"s":"t"},{"x":-666,"y":-323,"s":"t"}]},"mark":{"type":"text","align":"left","baseline":"alphabetic","font":"DejaVu Sans","fontStyle":"italic","fontSize":44,"color":"#000000"},"encoding":{"text":{"field":"s"}}},
{"data":{"values":[{"x":-649,"y":-330,"s":"0"}]},"mark":{"type":"text","align":"left","baseline":"alphabetic","font":"DejaVu Sans","fontSize":30,"color":"#000000"},"encoding":{"text":{"field":"s"}}},
{"data":{"values":[{"x":-112,"y":-563,"s":"P"}]},"mark":{"type":"text","align":"left","baseline":"alphabetic","font":"DejaVu Sans","fontStyle":"italic","fontSize":40,"color":"#000000"},"encoding":{"text":{"field":"s"}}},
{"data":{"values":[{"x":-66,"y":-563,"s":"𝒜"}]},"mark":{"type":"text","align":"left","baseline":"alphabetic","font":"DejaVu Sans","fontSize":34,"color":"#000000"},"encoding":{"text":{"field":"s"}}},
{"data":{"values":[{"x":-89,"y":-570,"s":"p"},{"x":-29,"y":-570,"s":"p"}]},"mark":{"type":"text","align":"left","baseline":"alphabetic","font":"DejaVu Sans","fontStyle":"italic","fontSize":28,"color":"#000000"},"encoding":{"text":{"field":"s"}}},
{"data":{"values":[{"x":24,"y":-543,"s":"cm"},{"x":24,"y":-578,"s":"GeV"}]},"mark":{"type":"text","align":"left","baseline":"alphabetic","font":"DejaVu Sans","fontSize":30,"color":"#000000"},"encoding":{"text":{"field":"s"}}},
{"data":{"values":[{"x":68,"y":-532,"s":"2"}]},"mark":{"type":"text","align":"left","baseline":"alphabetic","font":"DejaVu Sans","fontSize":21,"color":"#000000"},"encoding":{"text":{"field":"s"}}}
]
},
{
"encoding":{
"x":{"field":"v","type":"quantitative","scale":{"domain":[0,116e-6],"range":[88,1480],"nice":false,"zero":false},
"axis":{"orient":"bottom","zindex":1,"values":[0,20e-6,40e-6,60e-6,80e-6,100e-6],"format":".5f","title":null,"domain":false,"grid":false,"offset":-142,"tickSize":11,"tickWidth":2,"tickColor":"#222222","labelFont":"DejaVu Sans","labelFontSize":37,"labelColor":"#000000","labelPadding":11,"labelFlush":false,"labelOverlap":false,"labelBound":false}},
"y":{"datum":0,"type":"quantitative","scale":{"domain":[0,1],"range":[802.5,760],"nice":false,"zero":false},"axis":null},
"y2":{"datum":1}
},
"layer":[
{"data":{"name":"bar"},"mark":{"type":"rect"},"encoding":{"x2":{"field":"w"},"color":{"field":"v","type":"quantitative","legend":null}}},
{"data":{"values":[{"v":0,"w":116e-6}]},"mark":{"type":"rect","fillOpacity":0,"stroke":"#000000","strokeWidth":2.5},"encoding":{"x2":{"field":"w"}}}
]
}
]
}
